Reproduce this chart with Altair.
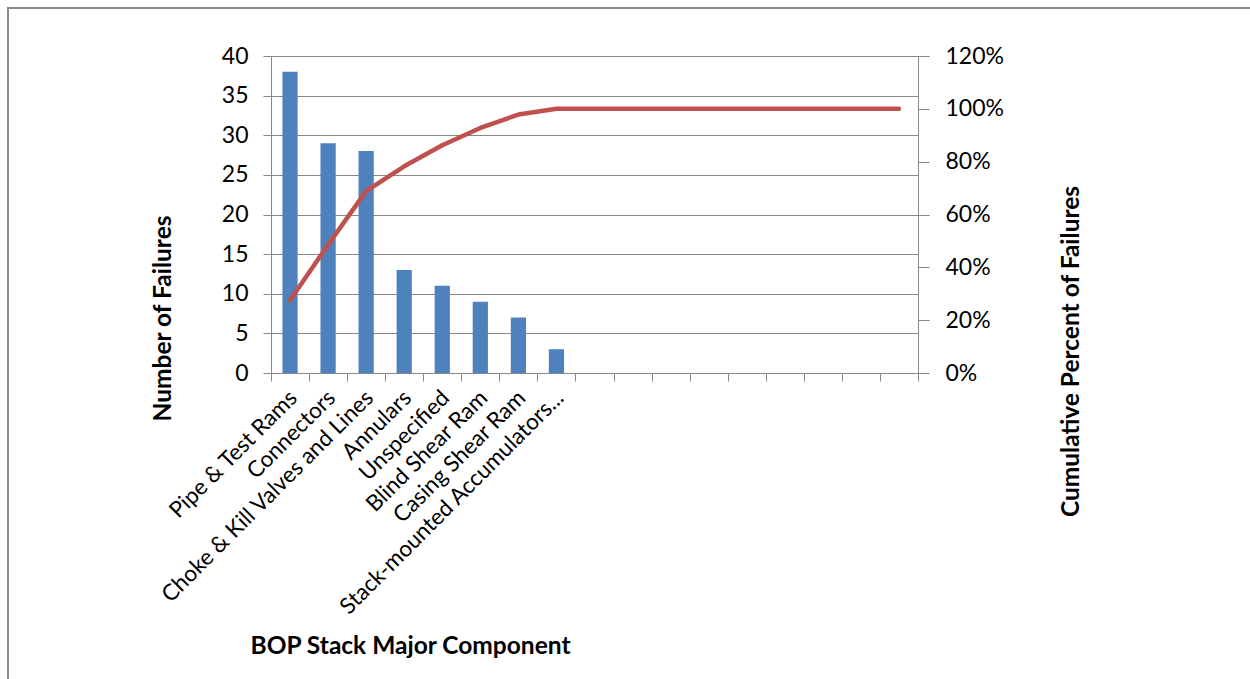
import json

import altair as alt
import pandas as pd

# Failures per BOP stack component, sorted for a Pareto view
components = [
    "Pipe & Test Rams",
    "Connectors",
    "Choke & Kill Valves and Lines",
    "Annulars",
    "Unspecified",
    "Blind Shear Ram",
    "Casing Shear Ram",
    "Stack-mounted Accumulators...",
]
failures = [38, 29, 28, 13, 11, 9, 7, 3]

# The category axis keeps empty slots after the last component
n_slots = 17
slots = list(range(n_slots))

# Cumulative share of failures (stays at 100% across the empty slots)
total = sum(failures)
running = 0
cumulative = []
for f in failures:
    running += f
    cumulative.append(running / total)
cumulative += [1.0] * (n_slots - len(failures))

left_ticks = [0, 5, 10, 15, 20, 25, 30, 35, 40]
right_ticks = [0, 0.2, 0.4, 0.6, 0.8, 1.0, 1.2]

bar_df = pd.DataFrame({"slot": slots[: len(failures)], "failures": failures})
line_df = pd.DataFrame({"slot": slots, "cumulative": cumulative})

FONT = "Lato"
GREY = "#878787"
BAR = "#4F81BD"
LINE = "#C0504D"
TICK_FS = 23
CAT_FS = 22.5
TITLE_FS = 24.5

label_expr = json.dumps(components) + "[datum.value] || ''"

x_enc = alt.X(
    "slot:O",
    scale=alt.Scale(domain=slots, paddingInner=0, paddingOuter=0),
    axis=alt.Axis(
        title="BOP Stack Major Component",
        labelExpr=label_expr,
        labelAngle=-45,
        labelAlign="right",
        labelBaseline="middle",
        labelPadding=13,
        labelOffset=3,
        labelFontSize=CAT_FS,
        labelColor="#000000",
        labelFont=FONT,
        labelOverlap=False,
        labelBound=False,
        labelLimit=0,
        tickBand="extent",
        tickSize=8,
        tickColor=GREY,
        domainColor=GREY,
        titleFont=FONT,
        titleFontSize=TITLE_FS,
        titleFontWeight="bold",
        titleColor="#000000",
        titleAnchor="start",
        titleAlign="center",
        titleBaseline="alphabetic",
        titleX=139,
        titleY=280,
    ),
)

frame = alt.Chart(bar_df).mark_rect(
    fill="transparent", stroke="#8a8a8a", strokeWidth=1.5
).encode(
    x=alt.value(-263),
    x2=alt.value(1000),
    y=alt.value(-48),
    y2=alt.value(700),
)

bars = alt.Chart(bar_df).mark_bar(
    color=BAR, width=alt.RelativeBandSize(0.4)
).encode(
    x=x_enc,
    y=alt.Y(
        "failures:Q",
        scale=alt.Scale(domain=[0, 40], nice=False),
        axis=alt.Axis(
            title="Number of Failures",
            values=left_ticks,
            grid=True,
            gridColor=GREY,
            gridWidth=1,
            tickSize=8,
            tickColor=GREY,
            domainColor=GREY,
            labelFontSize=TICK_FS,
            labelFont=FONT,
            labelColor="#000000",
            labelPadding=15,
            titleFont=FONT,
            titleFontSize=TITLE_FS,
            titleFontWeight="bold",
            titleColor="#000000",
            titleAngle=270,
            titleAlign="center",
            titleBaseline="middle",
            titleX=-108,
            titleY=262,
        ),
    ),
)

line = alt.Chart(line_df).mark_line(
    color=LINE, strokeWidth=4.5, strokeCap="round", strokeJoin="round"
).encode(
    x=alt.X("slot:O", scale=alt.Scale(domain=slots, paddingInner=0, paddingOuter=0)),
    y=alt.Y(
        "cumulative:Q",
        scale=alt.Scale(domain=[0, 1.2], nice=False),
        axis=alt.Axis(
            title="Cumulative Percent of Failures",
            orient="right",
            values=right_ticks,
            format=".0%",
            grid=False,
            tickSize=11,
            tickColor=GREY,
            domainColor=GREY,
            labelFontSize=TICK_FS,
            labelFont=FONT,
            labelColor="#000000",
            labelPadding=16,
            titleFont=FONT,
            titleFontSize=TITLE_FS,
            titleFontWeight="bold",
            titleColor="#000000",
            titleAngle=270,
            titleAlign="center",
            titleBaseline="middle",
            titleX=153,
            titleY=295,
        ),
    ),
)

chart = (
    alt.layer(frame, bars, line)
    .resolve_scale(y="independent")
    .properties(
        width=647,
        height=317,
        padding={"left": 271, "top": 56, "right": 332, "bottom": 306},
        autosize=alt.AutoSizeParams(type="none"),
        background="#ffffff",
    )
    .configure_view(stroke=None)
)

chart.save("out.html", embed_options={"renderer": "svg", "actions": False})
